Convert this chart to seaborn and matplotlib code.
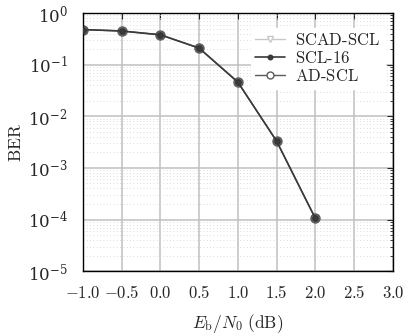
import numpy as np
import pandas as pd
import matplotlib
matplotlib.use('Agg')
import matplotlib.pyplot as plt
import matplotlib.ticker as mticker
import seaborn as sns

# valores
ebn0 = [-1.0, -0.5, 0.0, 0.5, 1.0, 1.5, 2.0]
ber_scl16 = [0.48, 0.45, 0.38, 0.21, 0.046, 0.0033, 0.000105]
ber_adscl = [0.48, 0.45, 0.38, 0.21, 0.046, 0.0033, 0.000105]
ber_scadscl = []  # sem pontos visíveis

sns.set_style('white')
plt.rcParams['font.family'] = ['DejaVu Serif']
plt.rcParams['mathtext.fontset'] = 'cm'

fig, ax = plt.subplots(figsize=(4.08, 3.36), dpi=100)
fig.subplots_adjust(left=0.203, right=0.963, top=0.961, bottom=0.193)

ax.plot([], [], color='#c8c8c8', marker='v', mfc='white', ms=4, lw=1,
        label=r'$\mathrm{SCAD\text{-}SCL}$')
df1 = pd.DataFrame({'x': ebn0, 'y': ber_scl16})
sns.lineplot(data=df1, x='x', y='y', ax=ax, color='#3a3a3a', marker='o', ms=4,
             mec='#333333', lw=1.2, label=r'$\mathrm{SCL\text{-}16}$', zorder=3)
df2 = pd.DataFrame({'x': ebn0, 'y': ber_adscl})
sns.lineplot(data=df2, x='x', y='y', ax=ax, color='#5a5a5a', marker='o', ms=6.5,
             mfc='#707070', mec='#5a5a5a', mew=1.0, lw=1.0, label=r'$\mathrm{AD\text{-}SCL}$',
             zorder=2)

ax.set_yscale('log')
ax.set_ylim(1e-5, 1)
ax.set_xlim(-1.0, 3.0)
ax.set_xticks(np.arange(-1.0, 3.01, 0.5))
ax.xaxis.set_major_formatter(mticker.FuncFormatter(lambda v, p: r'$%.1f$' % v))
ax.yaxis.set_major_locator(mticker.LogLocator(base=10, numticks=10))
ax.yaxis.set_minor_locator(mticker.LogLocator(base=10, subs=np.arange(2, 10), numticks=20))
ax.yaxis.set_minor_formatter(mticker.NullFormatter())

ax.grid(True, which='major', color='#c0c0c0', lw=1.1, ls='-')
ax.grid(True, axis='y', which='minor', color='#d0d0d0', lw=0.6, ls=(0, (1, 3)))
ax.set_axisbelow(True)
ax.tick_params(which='both', direction='in', top=True, right=True, labelsize=12)
ax.tick_params(which='major', length=4)
ax.tick_params(which='minor', length=2)
ax.tick_params(axis='x', pad=10)
ax.tick_params(axis='y', pad=11)
for s in ax.spines.values():
    s.set_color('black')
    s.set_linewidth(1.0)

ax.set_xlabel(r'$E_{\mathrm{b}}/N_0\ (\mathrm{dB})$', fontsize=12.5, labelpad=7)
ax.set_ylabel(r'$\mathrm{BER}$', fontsize=12.5, labelpad=2)
leg = ax.legend(loc='upper right', bbox_to_anchor=(1.0, 0.975), frameon=True, framealpha=1,
                edgecolor='white', fontsize=12, handlelength=1.8, borderpad=0.25,
                labelspacing=0.05, handletextpad=0.6, fancybox=False)
# marcadores da legenda como no original
h = leg.legend_handles
h[1].set_markersize(3.5)
h[2].set_markerfacecolor('white')
h[2].set_markersize(5)

plt.savefig('out.png', dpi=100)
